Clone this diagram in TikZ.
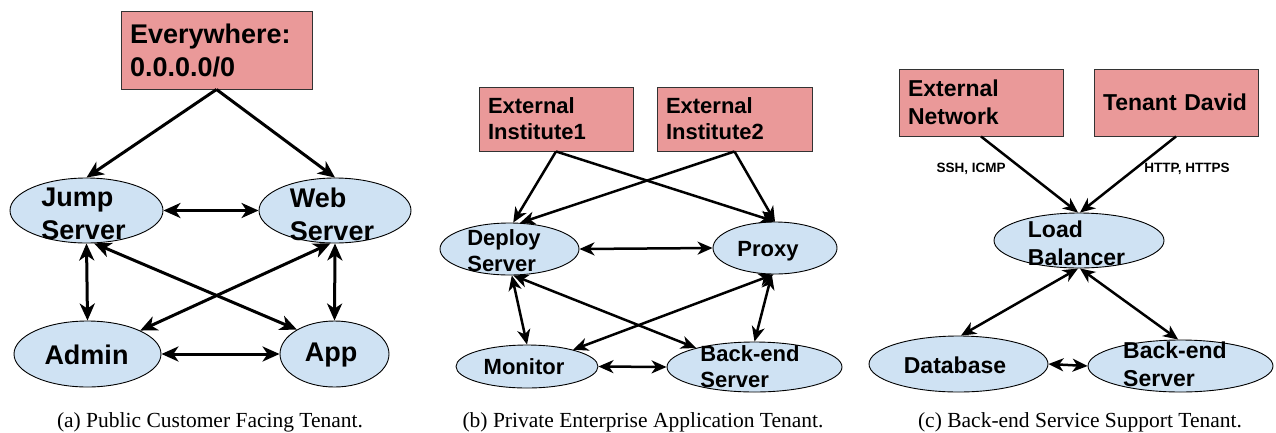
\documentclass[tikz,border=0pt]{standalone}
\usepackage{fontspec}
\setmainfont{Liberation Serif}
\newfontfamily\diagfont{Liberation Sans}
\usetikzlibrary{arrows.meta,shapes.geometric}

\definecolor{zonered}{HTML}{EA9999}
\definecolor{hostblue}{HTML}{CFE2F3}

\begin{document}
\begin{tikzpicture}[x=1pt,y=-1pt,
  zone/.style={draw=black!80, line width=0.9pt, fill=zonered, rectangle,
    inner xsep=9pt, inner ysep=0pt, align=left},
  host/.style={draw=black, line width=0.9pt, fill=hostblue, ellipse, inner sep=0pt},
  hosttext/.style={align=left, inner sep=0pt},
  bigfont/.style={font=\diagfont\bfseries\fontsize{27}{33}\selectfont},
  midfont/.style={font=\diagfont\bfseries\fontsize{22}{26}\selectfont},
  cfont/.style={font=\diagfont\bfseries\fontsize{23}{28}\selectfont},
  proto/.style={font=\diagfont\bfseries\fontsize{13.5}{16}\selectfont, inner sep=0pt},
  caption/.style={font=\fontsize{21.5}{26}\selectfont, anchor=base, inner sep=0pt},
  tipA/.style={Stealth[length=17pt,width=15pt,inset=5pt]},
  tipB/.style={Stealth[length=15pt,width=13pt,inset=4.5pt]},
  oneA/.style={line width=3pt, -{Stealth[length=17pt,width=15pt,inset=5pt]}},
  twoA/.style={line width=3pt, {Stealth[length=17pt,width=15pt,inset=5pt]}-{Stealth[length=17pt,width=15pt,inset=5pt]}},
  oneB/.style={line width=2.5pt, -{Stealth[length=15pt,width=13pt,inset=4.5pt]}},
  twoB/.style={line width=2.5pt, {Stealth[length=15pt,width=13pt,inset=4.5pt]}-{Stealth[length=15pt,width=13pt,inset=4.5pt]}},
]
\useasboundingbox (0,0) rectangle (1276,432);

% ---------- (a) public customer facing tenant ----------
\node[zone, bigfont, text width=173pt, minimum height=78pt] (ev) at (216.5,50) {Everywhere:\\0.0.0.0/0};
\node[host, minimum width=153pt, minimum height=65pt] (jump) at (86.5,210.5) {};
\node[host, minimum width=152pt, minimum height=65pt] (web) at (335,210.5) {};
\node[host, minimum width=147pt, minimum height=66pt] (admin) at (87.5,354) {};
\node[host, minimum width=109pt, minimum height=66pt] (app) at (334.5,354) {};
\node[hosttext, bigfont] (jumpT) at (83.5,214) {Jump\\Server};
\node[hosttext, bigfont] (webT) at (332,214) {Web\\Server};
\node[hosttext, bigfont] (adminT) at (86.5,355) {Admin};
\node[hosttext, bigfont] (appT) at (331,355) {App};

\draw[oneA] (ev.south) -- (jump.north);
\draw[oneA] (ev.south) -- (web.north);
\draw[twoA] (jump.east) -- (web.west);
\draw[twoA] (jump.south) -- (admin.north);
\draw[twoA] (web.south) -- (app.north);
\draw[twoA] (jump.-77) -- (app.147);
\draw[twoA] (web.-98) -- (admin.24);
\draw[twoA] (admin.east) -- (app.west);

\node[caption] (capA) at (210,427) {(a) Public Customer Facing Tenant.};

% ---------- (b) private enterprise application tenant ----------
\node[zone, midfont, text width=136pt, minimum height=64pt] (inst1) at (556,119) {External\\Institute1};
\node[zone, midfont, text width=137pt, minimum height=64pt] (inst2) at (734.5,119) {External\\Institute2};
\node[host, minimum width=139pt, minimum height=52pt] (deploy) at (509.5,249) {};
\node[host, minimum width=124pt, minimum height=52pt] (proxy) at (775,248) {};
\node[host, minimum width=142pt, minimum height=43pt] (monitor) at (527,366.5) {};
\node[host, minimum width=175pt, minimum height=50pt] (backend) at (754.5,367) {};
\node[hosttext, midfont] (deployT) at (504,251) {Deploy\\Server};
\node[hosttext, midfont] (proxyT) at (768,251) {Proxy};
\node[hosttext, midfont] (monitorT) at (524,367) {Monitor};
\node[hosttext, midfont] (backendT) at (750,367) {Back-end\\Server};

\draw[oneB] (inst1.south) -- (deploy.82);
\draw[oneB] (inst1.south) -- (proxy.north);
\draw[oneB] (inst2.south) -- (deploy.68);
\draw[oneB] (inst2.south) -- (proxy.north);
\draw[twoB] (deploy.east) -- (proxy.west);
\draw[twoB] (deploy.-85) -- (monitor.north);
\draw[twoB] (deploy.-82) -- (backend.162);
\draw[twoB] (proxy.-93) -- (monitor.20);
\draw[twoB] (proxy.-97) -- (backend.north);
\draw[twoB] (monitor.east) -- (backend.west);

\node[caption] (capB) at (643,427) {(b) Private Enterprise Application Tenant.};

% ---------- (c) back-end service support tenant ----------
\node[zone, cfont, text width=146pt, minimum height=67pt] (extnet) at (981,102.5) {External\\Network};
\node[zone, cfont, text width=146pt, minimum height=67pt] (tenant) at (1176,102.5) {Tenant David};
\node[host, minimum width=170pt, minimum height=55pt] (lb) at (1079,240.5) {};
\node[host, minimum width=179pt, minimum height=56pt] (db) at (958.5,364) {};
\node[host, minimum width=185pt, minimum height=52pt] (be) at (1180.5,366) {};
\node[hosttext, cfont] (lbT) at (1076.5,243) {Load\\Balancer};
\node[hosttext, cfont] (dbT) at (955,365) {Database};
\node[hosttext, cfont] (beT) at (1175,364.5) {Back-end\\Server};

\draw[oneB] (extnet.south) -- (lb.92);
\draw[oneB] (tenant.south) -- (lb.88);
\draw[twoB] (lb.-92) -- (db.85);
\draw[twoB] (lb.-88) -- (be.95);
\draw[twoB] (db.east) -- (be.west);

\node[proto] (sshT) at (971,169) {SSH, ICMP};
\node[proto] (httpT) at (1187,169) {HTTP, HTTPS};

\node[caption] (capC) at (1080,427) {(c) Back-end Service Support Tenant.};
\end{tikzpicture}
\end{document}
